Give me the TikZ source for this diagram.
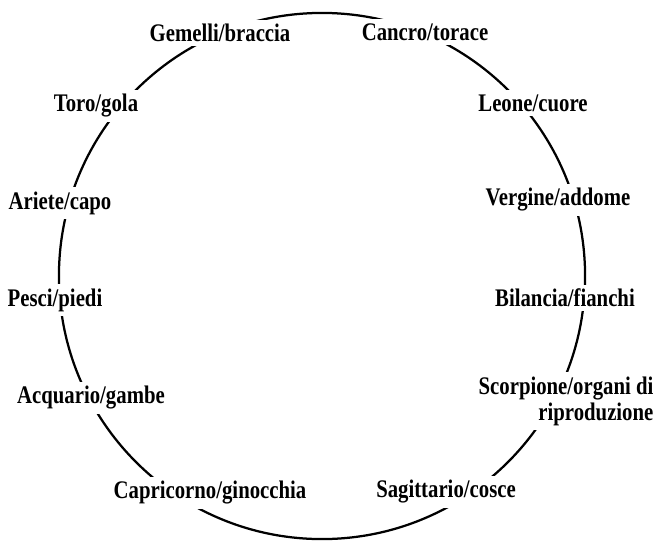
\documentclass[tikz,border=0pt]{standalone}
\usepackage{fontspec}
\usepackage{tikz}
\newfontfamily\signfont[FakeStretch=0.82]{Liberation Serif}

\begin{document}
\begin{tikzpicture}[
  x=0.025cm, y=-0.025cm,
  sign/.style={fill=white, inner sep=3pt, font=\signfont\fontsize{18}{18.5}\selectfont\bfseries, align=center},
  wheel/.style={draw, circle, line width=1.6pt, minimum size=13.15cm, inner sep=0pt}
]
  \useasboundingbox (0,0) rectangle (658,541);
  \node[wheel] (zodiac) at (322,276) {};

  \node[sign] (gemelli) at (220,33) {Gemelli/braccia};
  \node[sign] (cancro) at (425,32) {Cancro/torace};
  \node[sign] (toro) at (96,106) {Toro/gola};
  \node[sign] (leone) at (533,103) {Leone/cuore};
  \node[sign] (ariete) at (60,203) {Ariete/capo};
  \node[sign] (vergine) at (558,200) {Vergine/addome};
  \node[sign] (pesci) at (55,300) {Pesci/piedi};
  \node[sign] (bilancia) at (565,298) {Bilancia/fianchi};
  \node[sign] (acquario) at (91,398) {Acquario/gambe};
  \node[sign, align=right] (scorpione) at (566,401) {Scorpione/organi di\\riproduzione};
  \node[sign] (capricorno) at (210,493) {Capricorno/ginocchia};
  \node[sign] (sagittario) at (446,492) {Sagittario/cosce};
\end{tikzpicture}
\end{document}
